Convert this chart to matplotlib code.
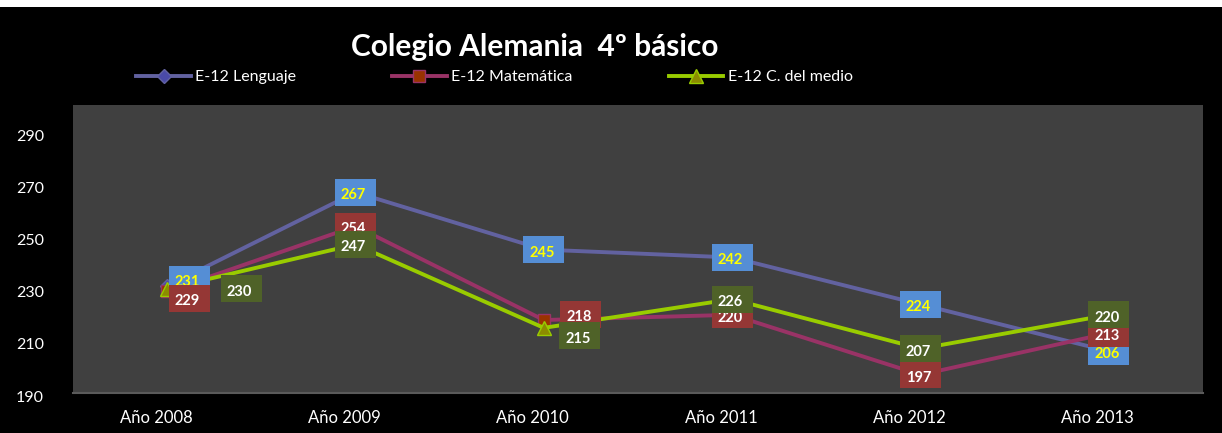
import matplotlib
matplotlib.use("Agg")
import matplotlib.pyplot as plt
import matplotlib.transforms as mtransforms
from matplotlib.patches import Rectangle

plt.rcParams['font.family'] = ['Lato', 'DejaVu Sans']

years = ["Año 2008", "Año 2009", "Año 2010", "Año 2011", "Año 2012", "Año 2013"]
lenguaje = [231, 267, 245, 242, 224, 206]
matematica = [229, 254, 218, 220, 197, 213]
medio = [230, 247, 215, 226, 207, 220]
yticks = [190, 210, 230, 250, 270, 290]

# label offsets in pixels (dx, dy up), most labels sit centred on the point
off_leng = [(22, 7), (0, 0), (0, 0), (0, 0), (0, 0), (0, 0)]
off_mate = [(22, -7), (0, 0), (37, 6), (0, 0), (0, 0), (0, 0)]
off_medio = [(74, 0), (0, 0), (36, -8), (0, 0), (0, 0), (0, 0)]

series = [
    dict(name="E-12 Lenguaje", values=lenguaje, offsets=off_leng, color="#6262A0",
         marker="D", ms=7, mfc="#4A4AA8", mec="#6262A0",
         box="#558ED5", txt="#FFFF00"),
    dict(name="E-12 Matemática", values=matematica, offsets=off_mate, color="#993366",
         marker="s", ms=8, mfc="#993300", mec="#993366",
         box="#953735", txt="white"),
    dict(name="E-12 C. del medio", values=medio, offsets=off_medio, color="#99CC00",
         marker="^", ms=10, mfc="#8C8C00", mec="#99CC00",
         box="#4F6228", txt="white"),
]

BOX_W, BOX_H = 41, 27  # label box size in pixels

fig = plt.figure(figsize=(12.22, 4.33), dpi=100, facecolor="black")
# thin white strip at the top as in the original screenshot
fig.patches.append(Rectangle((0, 1 - 7 / 433), 1, 7 / 433, transform=fig.transFigure,
                             facecolor="white", edgecolor="none", zorder=0))

ax = fig.add_axes([73 / 1222, 40 / 433, 1130 / 1222, 288 / 433])
ax.set_facecolor("#404040")
ax.set_xlim(-0.5, 5.5)
ax.set_ylim(190, 300.5)

x = list(range(len(years)))
z = 3
for s in series:
    ax.plot(x, s["values"], color=s["color"], lw=2.8, marker=s["marker"], ms=s["ms"],
            mfc=s["mfc"], mec=s["mec"], mew=1, label=s["name"], zorder=z)
    z += 1

# data labels: a fixed size box anchored at the data point, then the number
z = 10
for s in series:
    for xi, v, (dx, dy) in zip(x, s["values"], s["offsets"]):
        anchor = mtransforms.ScaledTranslation(xi, v, ax.transData)
        ax.add_patch(Rectangle((dx - BOX_W / 2, dy - BOX_H / 2), BOX_W, BOX_H,
                               transform=anchor, facecolor=s["box"], edgecolor="none",
                               zorder=z, clip_on=False))
        ax.annotate(str(v), xy=(xi, v), xytext=(dx - 2, dy - 3), textcoords="offset pixels",
                    ha="center", va="center", fontsize=10.5, fontweight="bold",
                    color=s["txt"], zorder=z + 1)
    z += 2

ax.set_xticks(x)
ax.set_xticklabels(years)
ax.set_yticks(yticks)
ax.tick_params(axis="x", length=0, pad=12, colors="white", labelsize=12)
ax.tick_params(axis="y", length=0, pad=21, colors="white", labelsize=11.5)
for lab in ax.get_yticklabels():
    lab.set_transform(lab.get_transform() +
                      mtransforms.ScaledTranslation(0, -3 / 100, fig.dpi_scale_trans))
for lab in ax.get_xticklabels():
    lab.set_transform(lab.get_transform() +
                      mtransforms.ScaledTranslation(-11 / 100, 0, fig.dpi_scale_trans))
for side in ["top", "right", "left"]:
    ax.spines[side].set_visible(False)
ax.spines["bottom"].set_color("#5a5a5a")
ax.spines["bottom"].set_linewidth(1.5)

fig.text(535 / 1222, 1 - 47 / 433, "Colegio Alemania  4º básico", color="white",
         fontsize=21.5, fontweight="bold", ha="center", va="center")

fig.legend(loc="center left", bbox_to_anchor=(130 / 1222, 1 - 77 / 433), ncol=3,
           frameon=False, fontsize=11.5, labelcolor="white", handlelength=3.4,
           columnspacing=6.0, handletextpad=0.3, borderaxespad=0)

fig.savefig("out.png", dpi=100, facecolor=fig.get_facecolor())
